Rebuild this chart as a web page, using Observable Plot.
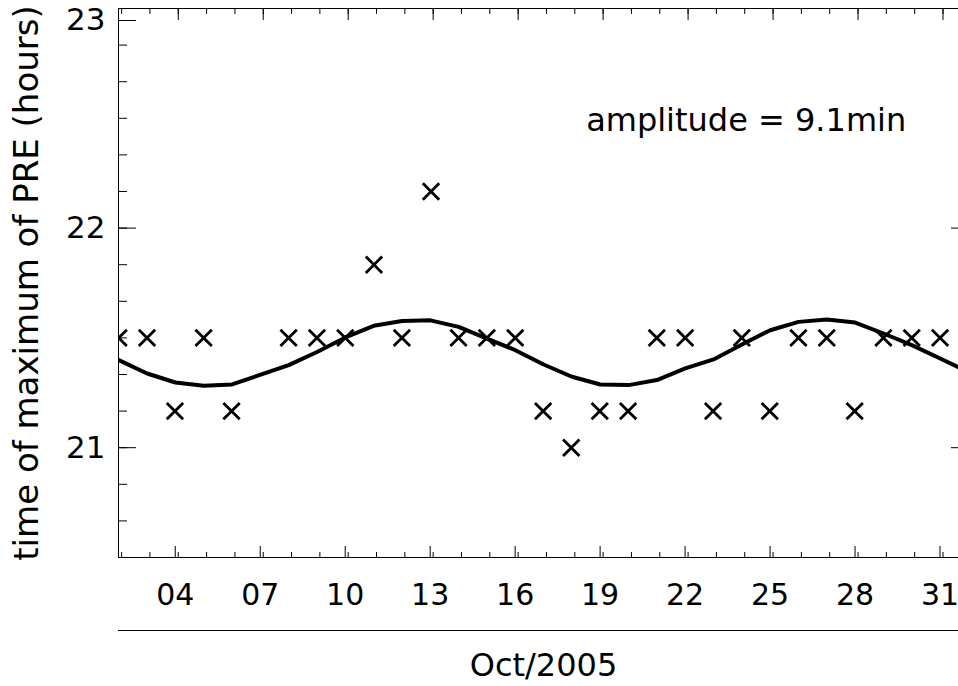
<!DOCTYPE html>
<html>
<head>
<meta charset="utf-8">
<script src="https://cdn.jsdelivr.net/npm/d3@7"></script>
<script src="https://cdn.jsdelivr.net/npm/@observablehq/plot@0.6"></script>
<style>
  html, body { margin: 0; padding: 0; background: #fff; overflow: hidden; }
  #chart svg { display: block; }
</style>
</head>
<body>
<div id="chart"></div>
<script>
// Observed time of maximum of PRE (hours, UT) per day of October 2005
const days  = [1, 2, 3, 4, 5, 7, 8, 9, 10, 11, 12, 13, 14, 15, 16, 17, 18, 19, 20, 21, 22, 23, 24, 25, 26, 27, 28, 29, 30];
const hours = [21.5, 21.5, 21.1667, 21.5, 21.1667, 21.5, 21.5, 21.5, 21.8333, 21.5, 22.1667, 21.5, 21.5, 21.5, 21.1667,
               21.0, 21.1667, 21.1667, 21.5, 21.5, 21.1667, 21.5, 21.1667, 21.5, 21.5, 21.1667, 21.5, 21.5, 21.5];

// Sinusoidal fit (amplitude 9.1 min) read at each day
const fitDays  = [1, 2, 3, 4, 5, 7, 8, 9, 10, 11, 12, 13, 14, 15, 16, 17, 18, 19, 20, 21, 22, 23, 24, 25, 26, 27, 28, 29, 30, 31];
const fitHours = [21.399, 21.338, 21.297, 21.282, 21.288, 21.376, 21.436, 21.502, 21.555, 21.577, 21.580, 21.550, 21.497,
                  21.444, 21.379, 21.323, 21.288, 21.285, 21.308, 21.361, 21.402, 21.470, 21.535, 21.573, 21.584, 21.570,
                  21.520, 21.467, 21.406, 21.345];

// Axis ticks
const xMajorTicks = [4, 7, 10, 13, 16, 19, 22, 25, 28, 31];
const xMinorTicks = d3.range(2, 32);
const yLabelTicks = [21, 22];
const yTopTick = [23];
const yMajorTicks = [21, 22, 23];
const yMinorTicks = d3.range(0, 16).map(i => 20.5 + i / 6);

const annotation = "amplitude = 9.1min";
const xTitle = "Oct/2005";
const yTitle = "time of maximum of PRE (hours)";

const points = days.map((d, i) => ({t: d + hours[i] / 24, h: hours[i]}));
const fit = fitDays.map((d, i) => ({t: d + 0.9, h: fitHours[i]}));

const FONT = "DejaVu Sans";
const fmtX = d3.format("02d");
const fmtY = d3.format("d");
const blank = () => "";

const chart = Plot.plot({
  width: 958,
  height: 686,
  marginLeft: 118,
  marginRight: -10,
  marginTop: 8,
  marginBottom: 129,
  style: {fontFamily: FONT, fontSize: "30px", color: "black", background: "white"},
  x: {domain: [1.89, 31.9]},
  y: {domain: [20.5, 23]},
  marks: [
    Plot.frame({stroke: "black", strokeWidth: 1}),
    // bottom axis
    Plot.axisX({anchor: "bottom", ticks: xMinorTicks, tickSize: -5, tickFormat: blank, label: null}),
    Plot.axisX({anchor: "bottom", ticks: xMajorTicks, tickSize: -11, tickPadding: 37, tickFormat: fmtX,
                fontSize: 30, dx: -3, label: null}),
    // top axis (mirrored ticks)
    Plot.axisX({anchor: "top", ticks: xMinorTicks, tickSize: -5, tickFormat: blank, label: null}),
    Plot.axisX({anchor: "top", ticks: xMajorTicks, tickSize: -11, tickFormat: blank, label: null}),
    // left axis
    Plot.axisY({anchor: "left", ticks: yMinorTicks, tickSize: -9, tickFormat: blank, label: null}),
    Plot.axisY({anchor: "left", ticks: yLabelTicks, tickSize: -18, tickPadding: 31, tickFormat: fmtY,
                fontSize: 31, label: null}),
    Plot.axisY({anchor: "left", ticks: yTopTick, tickSize: -18, tickPadding: 31, tickFormat: fmtY,
                fontSize: 31, dy: 12, label: null}),
    // right axis (mirrored ticks)
    Plot.axisY({anchor: "right", ticks: yMinorTicks, tickSize: -9, tickFormat: blank, label: null}),
    Plot.axisY({anchor: "right", ticks: yMajorTicks, tickSize: -18, tickFormat: blank, label: null}),
    // separator below the tick labels
    Plot.ruleY([20.5], {dy: 73, stroke: "black", strokeWidth: 1}),
    // fitted curve
    Plot.line(fit, {x: "t", y: "h", stroke: "black", strokeWidth: 4, strokeLinejoin: "round", clip: true}),
    // observations
    Plot.dot(points, {x: "t", y: "h", symbol: "times", r: 7.5, stroke: "black", strokeWidth: 2.8, fill: "none", clip: true}),
    // annotation
    Plot.text([annotation], {x: 18.4, y: 22.49, text: d => d, textAnchor: "start", lineAnchor: "middle",
                             fontSize: 32, fill: "black"}),
    // titles
    Plot.text([xTitle], {frameAnchor: "bottom", dy: 108, text: d => d, textAnchor: "middle", lineAnchor: "middle",
                         fontSize: 32, fill: "black"}),
    Plot.text([yTitle], {frameAnchor: "left", dx: -91, rotate: -90, text: d => d, textAnchor: "middle",
                         lineAnchor: "middle", fontSize: 34, fill: "black"})
  ]
});

document.getElementById("chart").appendChild(chart);
</script>
</body>
</html>
